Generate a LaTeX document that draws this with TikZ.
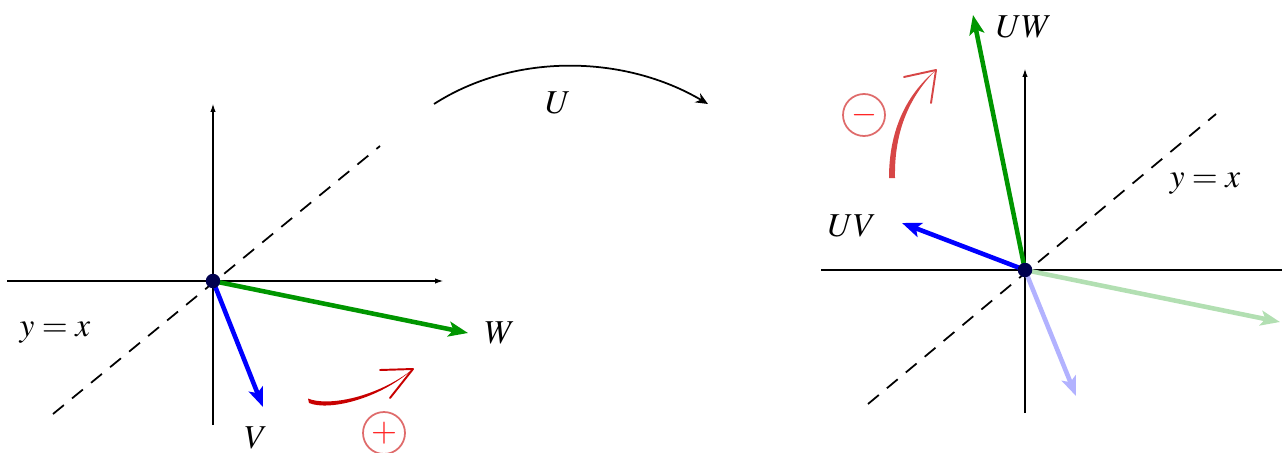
\documentclass[tikz,border=0pt]{standalone}
\usepackage{mathptmx}
\usepackage{tikz}
\usetikzlibrary{arrows.meta,calc}
\definecolor{vecgreen}{RGB}{0,150,0}
\definecolor{vecblue}{RGB}{0,0,255}
\definecolor{dotnavy}{RGB}{0,0,80}
\definecolor{signred}{RGB}{200,0,0}
\definecolor{signpink}{RGB}{215,70,70}

\begin{document}
\begin{tikzpicture}[x=0.02cm, y=-0.02cm, every node/.style={font=\fontsize{19}{22}\selectfont}]
  \tikzset{
    axis/.style={line width=1pt, -{Latex[length=5pt,width=3pt]}},
    diag/.style={line width=1pt, dash pattern=on 8pt off 6pt},
    vec/.style={line width=2.6pt, -{Stealth[length=11pt,width=8.5pt,inset=2.5pt]}},
    dot/.style={circle, fill=dotnavy, inner sep=0pt, minimum size=0.29cm},
    sign/.style={circle, draw, line width=1pt, inner sep=0pt, minimum size=0.84cm},
    head/.style={line width=1.1pt, line cap=round}
  }
  \useasboundingbox (0,0) rectangle (1282,453);

  % Left figure: W and V before U
  \begin{scope}[shift={(213,281)}]
    \draw[line width=1pt, -{Latex[length=5pt,width=3pt]}] (-206,0) -- (231,0);
    \draw[axis] (0,144) -- (0,-178);
    \draw[diag] (-160,133) -- (167,-135);
    \coordinate (O) at (0,0);
    \coordinate (Wtip) at (255,52);
    \coordinate (Vtip) at (50,126);
    \draw[vec, vecgreen] (O) -- (Wtip);
    \draw[vec, vecblue] (O) -- (Vtip);
    \node[dot] (Odot) at (O) {};
    \node (Wlab) at (287,52) {$W$};
    \node (Vlab) at (43,157) {$V$};
    \node (diaglab) at (-158,52) {$y=x$};

    % red turn, positive
    \fill[signred] (95,117.5) .. controls (115,126) and (165,116) .. (200,88)
      .. controls (165,119) and (115,130) .. (96,122) -- cycle;
    \draw[head, signred] (200,88) -- (167,89);
    \draw[head, signred] (200,88) -- (177,117);
    \node[sign, draw=signpink!80, text=red!85] (plus) at (171,152) {$+$};
  \end{scope}

  % The map U
  \coordinate (Ustart) at (434,104);
  \coordinate (Uend) at (708,104);
  \draw[line width=1pt, -{Stealth[length=7pt,width=6pt]}] (Ustart) .. controls (515,52) and (625,55) .. (Uend);
  \node (Ulab) at (558,103) {$U$};

  % Right figure: UW and UV after U
  \begin{scope}[shift={(1025,270)}]
    \draw[line width=1pt] (-204,0) -- (257,0);
    \draw[axis] (0,143) -- (0,-202);
    \draw[diag] (-157,134) -- (191,-156);
    \coordinate (P) at (0,0);
    \coordinate (Woldtip) at (255,52);
    \coordinate (Voldtip) at (51,126);
    \coordinate (UWtip) at (-52,-255);
    \coordinate (UVtip) at (-123,-47);
    \draw[vec, vecgreen!30] (P) -- (Woldtip);
    \draw[vec, vecblue!30] (P) -- (Voldtip);
    \draw[vec, vecgreen] (P) -- (UWtip);
    \draw[vec, vecblue] (P) -- (UVtip);
    \node[dot] (Pdot) at (P) {};
    \node (UWlab) at (-1,-243) {$UW$};
    \node (UVlab) at (-173,-44) {$UV$};
    \node (diaglab2) at (180,-86) {$y=x$};

    % red turn, negative
    \fill[signpink] (-136,-92) .. controls (-136,-142) and (-117,-177) .. (-89,-200)
      .. controls (-114,-175) and (-131,-141) .. (-130,-92) -- cycle;
    \draw[head, signpink] (-89,-200) -- (-121,-193);
    \draw[head, signpink] (-89,-200) -- (-94,-167);
    \node[sign, draw=signpink!80, text=red!85] (minus) at (-161,-155) {$-$};
  \end{scope}
\end{tikzpicture}
\end{document}
